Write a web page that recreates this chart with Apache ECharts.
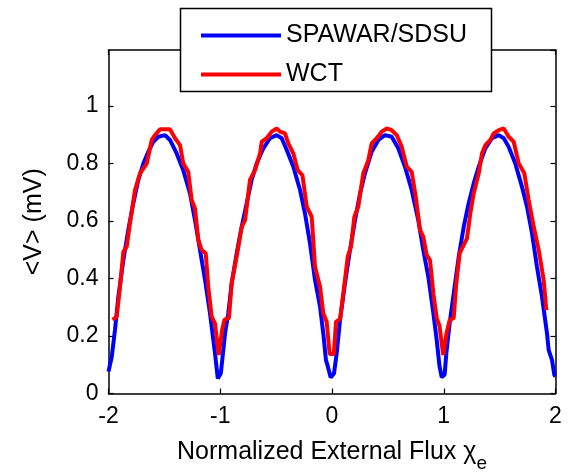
<!DOCTYPE html>
<html>
<head>
<meta charset="utf-8">
<script src="https://cdn.jsdelivr.net/npm/echarts@6/dist/echarts.min.js"></script>
<style>
html,body{margin:0;padding:0;background:#fff;}
#c{width:579px;height:474px;}
</style>
</head>
<body>
<div id="c"></div>
<script>
// ---- data ----
const seriesNames = ['SPAWAR/SDSU', 'WCT'];
const xTicks = [-2, -1, 0, 1, 2];
const yTicks = [0, 0.2, 0.4, 0.6, 0.8, 1];

const spawarX = [-2.000,-1.971,-1.942,-1.912,-1.867,-1.823,-1.778,-1.733,-1.688,-1.644,-1.599,-1.554,-1.494,-1.450,-1.390,-1.331,-1.271,-1.226,-1.181,-1.136,-1.092,-1.047,-1.022,-0.995,-0.957,-0.928,-0.898,-0.853,-0.808,-0.763,-0.719,-0.674,-0.614,-0.555,-0.495,-0.450,-0.405,-0.346,-0.286,-0.242,-0.197,-0.152,-0.107,-0.078,-0.054,-0.038,-0.012,0.018,0.042,0.072,0.116,0.161,0.206,0.251,0.295,0.355,0.415,0.474,0.534,0.593,0.653,0.713,0.772,0.817,0.862,0.907,0.937,0.962,0.982,1.008,1.023,1.053,1.089,1.134,1.179,1.223,1.268,1.313,1.372,1.432,1.492,1.537,1.581,1.640,1.700,1.745,1.790,1.834,1.879,1.924,1.939,1.969,1.990,2.000];
const spawarY = [0.076,0.128,0.221,0.337,0.464,0.569,0.662,0.743,0.800,0.841,0.876,0.893,0.899,0.882,0.835,0.777,0.696,0.603,0.499,0.395,0.279,0.140,0.052,0.070,0.209,0.279,0.383,0.488,0.580,0.662,0.743,0.800,0.853,0.888,0.899,0.888,0.847,0.789,0.708,0.627,0.522,0.395,0.302,0.209,0.116,0.095,0.056,0.070,0.140,0.256,0.383,0.499,0.603,0.696,0.766,0.841,0.882,0.899,0.893,0.853,0.789,0.708,0.603,0.499,0.406,0.279,0.186,0.095,0.056,0.066,0.140,0.244,0.348,0.476,0.580,0.662,0.731,0.789,0.853,0.888,0.899,0.888,0.858,0.800,0.719,0.650,0.557,0.441,0.337,0.209,0.151,0.116,0.064,0.060];

const wctX = [-1.963,-1.927,-1.897,-1.867,-1.837,-1.808,-1.763,-1.718,-1.658,-1.613,-1.584,-1.539,-1.450,-1.405,-1.360,-1.331,-1.286,-1.256,-1.226,-1.196,-1.166,-1.130,-1.107,-1.077,-1.047,-1.014,-0.984,-0.962,-0.922,-0.898,-0.853,-0.808,-0.778,-0.734,-0.689,-0.644,-0.629,-0.584,-0.540,-0.495,-0.465,-0.421,-0.391,-0.346,-0.307,-0.265,-0.226,-0.182,-0.152,-0.107,-0.078,-0.048,-0.021,0.016,0.036,0.072,0.101,0.141,0.170,0.200,0.235,0.280,0.325,0.355,0.400,0.445,0.490,0.534,0.579,0.624,0.669,0.713,0.749,0.788,0.817,0.847,0.877,0.907,0.937,0.962,0.995,1.024,1.053,1.089,1.112,1.143,1.179,1.208,1.238,1.268,1.313,1.342,1.372,1.417,1.447,1.492,1.537,1.581,1.626,1.671,1.721,1.760,1.805,1.850,1.894,1.918];
const wctY = [0.256,0.267,0.371,0.493,0.511,0.592,0.708,0.766,0.800,0.882,0.899,0.919,0.919,0.888,0.864,0.800,0.771,0.673,0.644,0.534,0.499,0.488,0.371,0.267,0.244,0.134,0.220,0.257,0.262,0.383,0.476,0.580,0.603,0.743,0.777,0.835,0.876,0.888,0.911,0.922,0.911,0.905,0.870,0.835,0.777,0.760,0.650,0.615,0.441,0.371,0.279,0.250,0.137,0.137,0.250,0.258,0.348,0.476,0.511,0.615,0.650,0.766,0.812,0.870,0.888,0.911,0.922,0.916,0.899,0.858,0.789,0.771,0.685,0.569,0.545,0.482,0.464,0.348,0.262,0.235,0.134,0.209,0.256,0.262,0.383,0.488,0.517,0.540,0.627,0.696,0.766,0.835,0.864,0.882,0.905,0.916,0.922,0.893,0.876,0.800,0.766,0.673,0.580,0.499,0.395,0.290];

// ---- chart ----
const FONT = '"Liberation Sans", Arial, sans-serif';
const pairs = (xs, ys) => xs.map((x, i) => [x, ys[i]]);

const chart = echarts.init(document.getElementById('c'), null, {renderer: 'canvas'});

const axisCommon = () => ({
  axisLine: {show: true, onZero: false, lineStyle: {color: '#000', width: 1.5}},
  axisTick: {show: true, inside: true, length: 5, lineStyle: {color: '#000', width: 1.2}},
  splitLine: {show: false}
});

chart.setOption({
  animation: false,
  backgroundColor: '#fff',
  grid: {left: 108.5, right: 23.5, top: 50, bottom: 80.5, containLabel: false, outerBoundsMode: 'none'},
  legend: {
    data: seriesNames,
    orient: 'vertical',
    left: 196, top: 18,
    icon: 'rect', itemWidth: 80, itemHeight: 4, itemGap: 14,
    textStyle: {fontFamily: FONT, fontSize: 25, color: '#000', lineHeight: 24},
    z: 101
  },
  graphic: [{
    type: 'rect', z: 100,
    shape: {x: 180.5, y: 8.5, width: 311, height: 83},
    style: {fill: '#fff', stroke: '#000', lineWidth: 1.5}
  }],
  xAxis: [
    Object.assign({
      type: 'value', min: xTicks[0], max: xTicks[xTicks.length - 1], interval: 1,
      position: 'bottom',
      axisLabel: {show: true, margin: 12, color: '#000', fontFamily: FONT, fontSize: 23,
        showMinLabel: true, showMaxLabel: true},
      name: '{a|Normalized External Flux }{g|χ}{s|e}',
      nameLocation: 'middle', nameGap: 46,
      nameTextStyle: {
        color: '#000', fontFamily: FONT,
        rich: {
          a: {fontFamily: FONT, fontSize: 25, color: '#000', lineHeight: 34, verticalAlign: 'top'},
          g: {fontFamily: FONT, fontSize: 25, color: '#000', lineHeight: 34, verticalAlign: 'top'},
          s: {fontFamily: FONT, fontSize: 19, color: '#000', lineHeight: 10, verticalAlign: 'bottom'}
        }
      }
    }, axisCommon()),
    Object.assign({
      type: 'value', min: xTicks[0], max: xTicks[xTicks.length - 1], interval: 1,
      position: 'top', axisLabel: {show: false}
    }, axisCommon())
  ],
  yAxis: [
    Object.assign({
      type: 'value', min: 0, max: 1.195, interval: 0.2,
      position: 'left',
      axisLabel: {show: true, margin: 10, color: '#000', fontFamily: FONT, fontSize: 23,
        showMaxLabel: false,
        formatter: v => (v > 1.001 ? '' : String(Math.round(v * 10) / 10))},
      name: '<V> (mV)', nameLocation: 'middle', nameRotate: 90, nameGap: 62,
      nameTextStyle: {color: '#000', fontFamily: FONT, fontSize: 25}
    }, axisCommon()),
    Object.assign({
      type: 'value', min: 0, max: 1.195, interval: 0.2,
      position: 'right', axisLabel: {show: false}
    }, axisCommon())
  ],
  series: [
    {
      name: seriesNames[0], type: 'line', data: pairs(spawarX, spawarY),
      showSymbol: false, symbol: 'none', color: '#0000ff',
      lineStyle: {color: '#0000ff', width: 4}, z: 3
    },
    {
      name: seriesNames[1], type: 'line', data: pairs(wctX, wctY),
      showSymbol: false, symbol: 'none', color: '#ff0000',
      lineStyle: {color: '#ff0000', width: 4}, z: 4
    }
  ]
});
</script>
</body>
</html>
